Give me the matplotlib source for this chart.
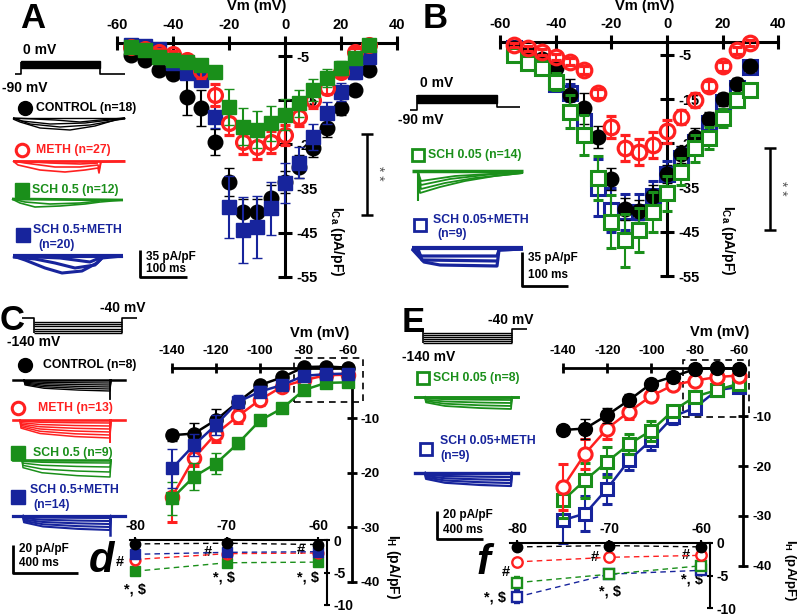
import matplotlib
matplotlib.use("Agg")
import matplotlib.pyplot as plt
from matplotlib.patches import Rectangle

plt.rcParams['font.family'] = ['Liberation Sans', 'DejaVu Sans']
plt.rcParams['font.weight'] = 'bold'
plt.rcParams['axes.unicode_minus'] = False
plt.rcParams['mathtext.fontset'] = 'custom'
plt.rcParams['mathtext.rm'] = 'Liberation Sans:bold'
plt.rcParams['mathtext.it'] = 'Liberation Sans:bold:italic'
plt.rcParams['mathtext.bf'] = 'Liberation Sans:bold'

W, H = 800, 615
BLACK = '#000000'
RED = '#ff2020'
GREEN = '#1a8f1a'
BLUE = '#17249c'

# ==========================================================
# Data: Ca current-voltage curves (panels A, B)
# ==========================================================

v_ca = [-55, -50, -45, -40, -35, -30, -25, -20, -15, -10, -5, 0, 5, 10, 15, 20, 25, 30]

a_ctrl = [-4.8, -5.9, -8.2, -9.1, -14.3, -16.8, -24.5, -33.5, -40.3, -40.3, -37.1, -33.5, -30.0, -25.8, -21.3, -16.8, -12.7, -8.2]
a_ctrl_err = [0.5, 0.6, 0.8, 0.8, 4.0, 4.0, 3.0, 3.2, 3.0, 3.0, 3.0, 2.5, 2.5, 2.0, 2.0, 1.5, 1.2, 0.8]
a_meth = [-3.0, -3.5, -4.0, -4.5, -6.0, -8.5, -13.8, -20.2, -24.5, -25.6, -24.5, -22.9, -18.8, -15.0, -12.2, -8.6, -4.1, -2.5]
a_meth_err = [0.5, 0.5, 0.6, 0.7, 1.0, 1.5, 2.5, 2.6, 2.6, 2.6, 2.5, 2.3, 2.0, 1.8, 1.5, 1.2, 0.8, 0.5]
a_sch = [-3.0, -3.6, -5.2, -5.9, -6.4, -7.0, -8.6, -16.5, -21.0, -21.7, -20.2, -18.3, -15.7, -12.7, -10.0, -7.7, -5.5, -2.5]
a_sch_err = [0.5, 0.5, 0.6, 0.7, 0.8, 0.8, 1.0, 4.0, 4.2, 4.2, 4.0, 3.5, 3.0, 2.5, 2.0, 1.5, 1.0, 0.6]
a_schm = [-2.5, -2.8, -3.5, -6.5, -8.8, -10.4, -18.8, -39.2, -44.4, -43.7, -39.4, -33.7, -29.2, -23.3, -17.9, -13.1, -8.6, -5.2]
a_schm_err = [0.5, 0.5, 0.6, 1.0, 1.2, 1.5, 2.5, 7.0, 7.5, 7.0, 6.0, 4.5, 3.5, 3.0, 2.5, 2.0, 1.5, 1.0]

b_ctrl = [-3.5, -4.5, -6.0, -8.0, -14.0, -17.0, -23.6, -33.0, -39.8, -40.2, -37.0, -32.0, -27.5, -23.5, -19.5, -15.0, -11.5, -7.6]
b_ctrl_err = [0.5, 0.6, 0.8, 1.0, 3.5, 3.5, 2.5, 2.5, 2.5, 2.5, 2.5, 2.0, 2.0, 2.0, 1.5, 1.5, 1.2, 1.0]
b_meth = [-2.7, -3.5, -4.3, -5.4, -6.5, -8.4, -13.7, -21.2, -26.0, -26.9, -25.4, -22.3, -19.0, -15.2, -12.0, -7.6, -3.9, -2.3]
b_meth_err = [0.5, 0.5, 0.6, 0.7, 0.8, 0.8, 1.0, 2.5, 3.0, 3.0, 3.0, 2.5, 1.5, 1.5, 1.2, 1.0, 0.8, 0.6]
b_sch = [-5.1, -6.9, -8.0, -11.0, -17.8, -23.1, -32.9, -42.7, -46.9, -44.6, -40.5, -36.3, -31.4, -26.1, -23.8, -19.3, -15.2, -12.9]
b_sch_err = [0.8, 1.0, 1.2, 2.0, 3.8, 4.5, 5.0, 6.0, 6.0, 5.0, 4.5, 4.0, 3.0, 3.0, 2.5, 2.0, 1.5, 1.2]
b_schm = [-3.5, -5.0, -7.5, -11.5, -13.5, -20.0, -35.0, -40.0, -40.5, -40.5, -37.0, -32.0, -28.3, -24.6, -20.4, -15.6, -12.5, -7.7]
b_schm_err = [0.5, 0.8, 1.0, 1.5, 2.0, 3.0, 6.5, 5.0, 4.0, 4.0, 3.5, 3.0, 2.5, 2.0, 2.0, 1.5, 1.5, 1.2]

# ==========================================================
# Data: Ih current-voltage curves (panels C, E)
# ==========================================================

v_h = [-140, -130, -120, -110, -100, -90, -80, -70, -60]

c_ctrl = [-13.1, -12.8, -10.3, -7.0, -3.9, -2.5, -0.6, -0.5, -0.7]
c_ctrl_err = [1.0, 2.0, 2.0, 1.0, 0.8, 0.5, 0.3, 0.3, 0.3]
c_meth = [-24.4, -17.3, -12.8, -9.6, -6.6, -4.2, -3.0, -2.1, -2.0]
c_meth_err = [4.6, 1.5, 1.5, 1.2, 1.0, 0.8, 0.4, 0.3, 0.3]
c_sch = [-24.7, -20.7, -18.3, -14.6, -10.4, -8.2, -4.8, -3.5, -3.4]
c_sch_err = [3.0, 2.5, 2.0, 1.0, 0.8, 0.6, 0.5, 0.4, 0.4]
c_schm = [-19.2, -14.9, -11.2, -7.0, -5.1, -3.9, -2.2, -1.9, -1.8]
c_schm_err = [3.5, 2.0, 1.8, 1.2, 1.0, 0.8, 0.4, 0.3, 0.3]

e_ctrl = [-12.8, -12.5, -9.8, -6.8, -3.5, -2.1, -0.6, -0.4, -0.6]
e_ctrl_err = [0.8, 2.0, 1.5, 1.2, 0.8, 0.5, 0.3, 0.3, 0.3]
e_meth = [-24.1, -17.5, -12.5, -9.1, -6.0, -3.8, -2.9, -2.2, -1.9]
e_meth_err = [4.6, 3.0, 2.0, 1.5, 1.0, 0.8, 0.5, 0.4, 0.4]
e_sch = [-26.8, -22.8, -19.1, -15.6, -12.9, -8.9, -6.1, -4.8, -3.5]
e_sch_err = [3.5, 3.5, 3.0, 2.0, 2.0, 1.0, 0.8, 0.5, 0.5]
e_schm = [-30.8, -29.5, -24.5, -18.8, -14.8, -10.1, -8.3, -4.8, -4.2]
e_schm_err = [4.5, 3.5, 3.0, 2.0, 2.0, 1.5, 1.0, 0.6, 0.5]

# insets d and f show the -80..-60 mV part of C and E
n_zoom = 3

# ==========================================================
# Figure and overlay (pixel coordinates) for decorations
# ==========================================================

fig = plt.figure(figsize=(W / 100, H / 100), dpi=100)
ov = fig.add_axes([0, 0, 1, 1])
ov.set_xlim(0, W)
ov.set_ylim(H, 0)
ov.axis('off')


def txt(x, y, s, size=8.8, color=BLACK, ha='left', **kw):
    ov.text(x, y, s, fontsize=size, color=color, ha=ha, va='center',
            fontweight='bold', **kw)


def poly(points, color=BLACK, lw=1.2):
    xs = [p[0] for p in points]
    ys = [p[1] for p in points]
    ov.plot(xs, ys, color=color, lw=lw, solid_joinstyle='round',
            solid_capstyle='butt')


def ih_traces(x_on, x_off, x_end, top, depths, color, x_start, lw=1.0, spike=0):
    ov.plot([x_start, x_end], [top, top], color=color, lw=lw + 0.8)
    for d in depths:
        ov.plot([x_on, x_on + 1, x_on + 20, x_on + 55, x_off, x_off + 1],
                [top, top + 0.45 * d, top + 0.75 * d, top + 0.92 * d, top + d, top],
                color=color, lw=lw)
    if spike:
        ov.plot([x_off, x_off], [top, top + spike], color=color, lw=lw + 0.3)


def scale_bar(x, y_top, y_bot, x_right, label1, label2, ty1, ty2):
    poly([(x, y_top), (x, y_bot), (x_right, y_bot)], lw=2.0)
    txt(x + 6, ty1, label1, size=8.5)
    txt(x + 6, ty2, label2, size=8.5)


def bracket(x, y0, y1):
    poly([(x, y0), (x, y1)], lw=1.8)
    poly([(x - 6, y0), (x + 6, y0)], lw=1.8)
    poly([(x - 6, y1), (x + 6, y1)], lw=1.8)
    ov.text(x + 11, (y0 + y1) / 2 - 1, '* *', rotation=270, fontsize=10,
            color='#555555', fontweight='normal', ha='center', va='center')


# ==========================================================
# Axes helpers
# ==========================================================

def make_ax(X0, sx, Y0, sy, xlim, ylim):
    # pixel x = X0 + sx * value, pixel y = Y0 - sy * value
    left = X0 + sx * xlim[0]
    right = X0 + sx * xlim[1]
    top = Y0 - sy * ylim[1]
    bottom = Y0 - sy * ylim[0]
    ax = fig.add_axes([left / W, 1 - bottom / H, (right - left) / W, (bottom - top) / H])
    ax.set_xlim(xlim)
    ax.set_ylim(ylim)
    ax.patch.set_alpha(0)
    return ax


def style_ax(ax, x_at, xb, y_at, yb, xticks, yticks, lw, tlen, fs, xpad, ypad):
    ax.spines['bottom'].set_visible(False)
    ax.spines['left'].set_visible(False)
    ax.spines['top'].set_position(('data', x_at))
    ax.spines['top'].set_bounds(*xb)
    ax.spines['right'].set_position(('data', y_at))
    ax.spines['right'].set_bounds(*yb)
    for s in ('top', 'right'):
        ax.spines[s].set_linewidth(lw)
    ax.xaxis.tick_top()
    ax.yaxis.tick_right()
    ax.set_xticks(xticks)
    ax.set_xticklabels([str(t) for t in xticks])
    ax.set_yticks(yticks)
    ax.set_yticklabels([str(t) for t in yticks])
    ax.tick_params(axis='x', direction='inout', length=tlen, width=lw,
                   labelsize=fs, pad=xpad)
    ax.tick_params(axis='y', direction='inout', length=tlen, width=lw,
                   labelsize=fs, pad=ypad)


def series(ax, x, y, err, color, marker, face, ms, mew, z, ls='none', lw=0,
           cap=3.6, elw=1.5):
    ax.errorbar(x, y, yerr=err, marker=marker, linestyle=ls, linewidth=lw,
                color=color, markerfacecolor=face, markeredgecolor=color,
                markersize=ms, markeredgewidth=mew, ecolor=color,
                elinewidth=elw, capsize=cap, capthick=elw, zorder=z,
                clip_on=False)


# ==========================================================
# Panel A
# ==========================================================

txt(33, 19, 'A', size=25, ha='center')
txt(23, 50, '0 mV', size=10)
txt(2, 88, '-90 mV', size=10)
poly([(15, 74), (21, 74), (21, 62)])
ov.add_patch(Rectangle((21, 61), 79, 7, color=BLACK))
poly([(100, 67), (100, 74), (125, 74)])

ov.plot([25], [108], 'o', color=BLACK, ms=10)
txt(36, 108, 'CONTROL (n=18)')
for pts in [[(13, 118), (125, 118)],
            [(13, 118), (22, 121), (50, 124), (85, 123), (110, 120), (125, 118)],
            [(13, 118), (30, 124), (60, 127), (90, 125), (112, 121), (125, 118)],
            [(13, 119), (20, 122), (40, 128), (70, 130), (95, 126), (115, 120), (125, 119)],
            [(13, 118), (55, 120), (80, 122), (100, 120), (125, 118)]]:
    poly(pts, BLACK, 1.0)

ov.plot([22], [150], 'o', color=RED, mfc='none', mew=2.2, ms=9)
txt(36, 150, 'METH (n=27)', color=RED)
poly([(13, 161), (125, 161)], RED, 2.0)
for pts in [[(13, 161), (18, 165), (40, 170), (65, 172), (85, 170), (98, 168), (99, 173), (101, 162), (125, 161)],
            [(13, 161), (25, 163), (55, 167), (80, 167), (98, 165), (99, 170), (101, 161)],
            [(13, 161), (50, 163), (80, 164), (98, 163)]]:
    poly(pts, RED, 1.2)

ov.plot([22], [190], 's', color=GREEN, ms=9.5)
txt(32, 190, 'SCH 0.5 (n=12)', color=GREEN)
poly([(12, 199), (123, 200)], GREEN, 2.0)
for pts in [[(12, 199), (20, 203), (35, 207), (60, 206), (85, 204), (100, 202), (123, 200)],
            [(12, 199), (25, 202), (50, 204), (80, 203), (100, 201)]]:
    poly(pts, GREEN, 1.2)

ov.plot([23], [235], 's', color=BLUE, ms=9.5)
txt(33, 230, 'SCH 0.5+METH', color=BLUE)
txt(38, 245, '(n=20)', color=BLUE)
poly([(13, 256), (123, 256)], BLUE, 3.0)
for pts in [[(13, 256), (25, 260), (45, 268), (62, 273), (82, 271), (97, 263), (102, 258), (123, 256)],
            [(13, 257), (35, 259), (55, 263), (75, 268), (95, 265), (102, 258)],
            [(13, 256), (60, 258), (90, 262), (102, 257)]]:
    poly(pts, BLUE, 2.2)

scale_bar(140, 250, 277, 187, '35 pA/pF', '100 ms', 257, 269)
bracket(367, 134, 215)
txt(257, 6, 'Vm (mV)', size=10.5, ha='center')
ov.text(337, 241, r'I$_{\rm Ca}$ (pA/pF)', rotation=270, fontsize=10,
        fontweight='bold', ha='center', va='center')

axA = make_ax(285, 2.8, 33.9, 4.42, (-66, 46), (-58, 3))
style_ax(axA, -2.06, (-60, 40), 0, (-55, -2.06), [-60, -40, -20, 0, 20, 40],
         [-5, -15, -25, -35, -45, -55], 2.2, 10, 10.5, 3, 3.5)
series(axA, v_ca, a_ctrl, a_ctrl_err, BLACK, 'o', BLACK, 10.5, 1, 3)
series(axA, v_ca, a_schm, a_schm_err, BLUE, 's', BLUE, 10, 1, 4)
series(axA, v_ca, a_meth, a_meth_err, RED, 'o', 'none', 10, 2.3, 5)
series(axA, v_ca, a_sch, a_sch_err, GREEN, 's', GREEN, 10, 1, 6)

# ==========================================================
# Panel B
# ==========================================================

txt(435, 19, 'B', size=25, ha='center')
txt(420, 83, '0 mV', size=10)
txt(398, 120, '-90 mV', size=10)
poly([(410, 110), (417, 110), (417, 95)])
ov.add_patch(Rectangle((417, 95), 80, 8, color=BLACK))
poly([(497, 103), (497, 107), (520, 107)])

ov.plot([418], [155], 's', color=GREEN, mfc='white', mew=2, ms=8.5)
txt(428, 155, 'SCH 0.05 (n=14)', color=GREEN)
poly([(412, 171), (523, 171)], GREEN, 2.5)
poly([(418, 171), (418, 201)], GREEN, 1.5)
for pts in [[(418, 172), (420, 193), (440, 187), (465, 181), (495, 176), (523, 173)],
            [(418, 172), (421, 189), (445, 183), (475, 178), (523, 173)],
            [(418, 172), (421, 185), (450, 179), (485, 175), (523, 172)],
            [(418, 172), (421, 181), (455, 176), (523, 172)]]:
    poly(pts, GREEN, 1.3)

ov.plot([420], [225], 's', color=BLUE, mfc='white', mew=2, ms=8.5)
txt(433, 220, 'SCH 0.05+METH', color=BLUE)
txt(437, 234, '(n=9)', color=BLUE)
poly([(412, 248), (523, 248)], BLUE, 3.0)
for pts in [[(412, 248), (421, 256), (497, 256), (499, 250), (523, 249)],
            [(412, 249), (424, 262), (440, 265), (497, 266), (499, 250), (523, 249)],
            [(418, 249), (422, 260), (497, 261)]]:
    poly(pts, BLUE, 2.3)

scale_bar(522, 252, 286, 568, '35 pA/pF', '100 ms', 258, 275)
bracket(770, 148, 230)
txt(645, 6, 'Vm (mV)', size=10.5, ha='center')
ov.text(728, 240, r'I$_{\rm Ca}$ (pA/pF)', rotation=270, fontsize=10,
        fontweight='bold', ha='center', va='center')

axB = make_ax(667, 2.78, 32.9, 4.42, (-66, 46), (-58, 3))
style_ax(axB, -2.1, (-60, 40), 0, (-55, -2.1), [-60, -40, -20, 0, 20, 40],
         [-5, -15, -25, -35, -45, -55], 2.2, 10, 10.5, 3, 3.5)
series(axB, v_ca, b_schm, b_schm_err, BLUE, 's', 'white', 9.5, 2.2, 3)
series(axB, v_ca, b_ctrl, b_ctrl_err, BLACK, 'o', BLACK, 10.5, 1, 4)
series(axB, v_ca, b_sch, b_sch_err, GREEN, 's', 'white', 9.5, 2.2, 5)
series(axB, v_ca, b_meth, b_meth_err, RED, 'o', 'none', 10.5, 2.3, 6)

# ==========================================================
# Panel C
# ==========================================================

txt(12, 320, 'C', size=25, ha='center')
txt(100, 308, '-40 mV', size=10)
txt(7, 342, '-140 mV', size=10)
poly([(22, 318), (34, 318), (34, 333)])
for yl in [322, 324.2, 326.4, 328.6, 330.8, 333]:
    poly([(34, yl), (122, yl)], lw=1.0)
poly([(122, 333), (122, 318), (137, 318)])

ov.plot([25], [365], 'o', color=BLACK, ms=10)
txt(43, 365, 'CONTROL (n=8)')
ih_traces(24, 110, 125, 380, [3, 5, 7, 9, 11], BLACK, 13, spike=19)

ov.plot([18], [408], 'o', color=RED, mfc='none', mew=2.2, ms=9)
txt(38, 408, 'METH (n=13)', color=RED)
ih_traces(20, 110, 125, 420, [3, 6, 9, 12, 15, 18], RED, 13, lw=1.1, spike=22)

ov.plot([18], [453], 's', color=GREEN, ms=9.5)
txt(33, 453, 'SCH 0.5 (n=9)', color=GREEN)
ih_traces(22, 110, 110, 460, [3, 7, 12, 17], GREEN, 13, lw=1.1)

ov.plot([18], [497], 's', color=BLUE, ms=9.5)
txt(30, 490, 'SCH 0.5+METH', color=BLUE)
txt(33, 505, '(n=14)', color=BLUE)
ih_traces(23, 110, 125, 516, [2, 5, 8, 11, 14], BLUE, 13, lw=1.5, spike=19)

scale_bar(13, 545, 573, 78, '20 pA/pF', '400 ms', 549, 563)
txt(320, 333, 'Vm (mV)', size=10.5, ha='center')
ov.text(393, 567, r'I$_{\rm H}$ (pA/pF)', rotation=270, fontsize=10,
        fontweight='bold', ha='center', va='center')

axC = make_ax(480, 2.2, 363.8, 5.45, (-146, -50), (-42, 2))
style_ax(axC, -0.8, (-140, -58.3), -58.3, (-40, -0.8),
         [-140, -120, -100, -80, -60], [-10, -20, -30, -40], 2.0, 7, 9.5, 4.5, 3)
axC.add_patch(Rectangle((-84.5, -7.0), 31.3, 8.1, fill=False, ls=(0, (4, 3)),
                        lw=1.2, ec=BLACK, zorder=2, clip_on=False))
series(axC, v_h, c_meth, c_meth_err, RED, 'o', 'white', 9, 2.2, 3, ls='-', lw=1.8)
series(axC, v_h, c_sch, c_sch_err, GREEN, 's', GREEN, 9, 1, 4, ls='-', lw=1.8)
series(axC, v_h, c_ctrl, c_ctrl_err, BLACK, 'o', BLACK, 9.5, 1, 5, ls='-', lw=1.8)
series(axC, v_h, c_schm, c_schm_err, BLUE, 's', BLUE, 9, 1, 6, ls='-', lw=1.8)

# inset d
axD = make_ax(868.6, 9.17, 540, 6.5, (-82, -57), (-11, 1.5))
style_ax(axD, 0, (-80.5, -59.1), -59.1, (-10, 0), [-80, -70, -60], [0, -5, -10],
         1.5, 4, 10, 3, 3)
vd = v_h[-n_zoom:]
dash = (0, (4, 3))
series(axD, vd, c_sch[-n_zoom:], c_sch_err[-n_zoom:], GREEN, 's', GREEN, 7, 1, 3, ls=dash, lw=1.0, cap=2.5, elw=1.2)
series(axD, vd, c_meth[-n_zoom:], c_meth_err[-n_zoom:], RED, 'o', 'white', 7, 1.8, 4, ls=dash, lw=1.0, cap=2.5, elw=1.2)
series(axD, vd, c_schm[-n_zoom:], c_schm_err[-n_zoom:], BLUE, 's', BLUE, 7, 1, 5, ls=dash, lw=1.0, cap=2.5, elw=1.2)
series(axD, vd, c_ctrl[-n_zoom:], c_ctrl_err[-n_zoom:], BLACK, 'o', BLACK, 7.5, 1, 6, ls=dash, lw=1.0, cap=2.5, elw=1.2)

txt(101, 561, 'd', size=30, ha='center', style='italic')
for (x, y) in [(120, 562), (208, 552), (301, 550)]:
    txt(x, y, '#', size=10.5, ha='center')
for (x, y) in [(135, 590), (224, 578), (308, 577)]:
    txt(x, y, '*, $', size=10.5, ha='center')

# ==========================================================
# Panel E
# ==========================================================

txt(413, 322, 'E', size=25, ha='center')
txt(488, 320, '-40 mV', size=10)
txt(402, 357, '-140 mV', size=10)
poly([(413, 329), (423, 329), (423, 343)])
for yl in [333, 335, 337, 339, 341, 343]:
    poly([(423, yl), (512, yl)], lw=1.0)
poly([(512, 343), (512, 329), (527, 329)])

ov.plot([423], [378], 's', color=GREEN, mfc='white', mew=2, ms=8.5)
txt(433, 378, 'SCH 0.05 (n=8)', color=GREEN)
ih_traces(425, 511, 518, 397, [3, 6, 9, 12], GREEN, 415, lw=1.3)

ov.plot([426], [449], 's', color=BLUE, mfc='white', mew=2, ms=8.5)
txt(440, 441, 'SCH 0.05+METH', color=BLUE)
txt(440, 456, '(n=9)', color=BLUE)
ih_traces(425, 511, 518, 473, [4, 7, 10, 13], BLUE, 415, lw=1.6)

scale_bar(437, 511, 539, 483, '20 pA/pF', '400 ms', 515, 530)
txt(720, 332, 'Vm (mV)', size=10.5, ha='center')
ov.text(790, 570, r'I$_{\rm H}$ (pA/pF)', rotation=270, fontsize=9.5,
        fontweight='bold', ha='center', va='center')

axE = make_ax(871.3, 2.2, 366, 5.0, (-146, -50), (-42, 2))
style_ax(axE, -0.4, (-140, -58.2), -58.2, (-40, -0.4),
         [-140, -120, -100, -80, -60], [-10, -20, -30, -40], 2.0, 7, 9.5, 4.5, 3)
axE.add_patch(Rectangle((-85.6, -10.2), 30.0, 11.4, fill=False, ls=(0, (4, 3)),
                        lw=1.2, ec=BLACK, zorder=2, clip_on=False))
series(axE, v_h, e_schm, e_schm_err, BLUE, 's', 'white', 9, 2.2, 3, ls='-', lw=1.8)
series(axE, v_h, e_sch, e_sch_err, GREEN, 's', 'white', 9, 2.2, 4, ls='-', lw=1.8)
series(axE, v_h, e_meth, e_meth_err, RED, 'o', 'white', 9.5, 2.2, 5, ls='-', lw=1.8)
series(axE, v_h, e_ctrl, e_ctrl_err, BLACK, 'o', BLACK, 10, 1, 6, ls='-', lw=1.8)

# inset f
axF = make_ax(1253.3, 9.2, 543, 6.5, (-82, -57), (-11, 1.5))
style_ax(axF, 0, (-80.8, -59.05), -59.05, (-10, 0), [-80, -70, -60], [0, -5, -10],
         1.5, 4, 10, 3, 3)
series(axF, vd, e_schm[-n_zoom:], e_schm_err[-n_zoom:], BLUE, 's', 'white', 7, 1.7, 3, ls=dash, lw=1.0, cap=2.5, elw=1.2)
series(axF, vd, e_sch[-n_zoom:], e_sch_err[-n_zoom:], GREEN, 's', 'white', 7, 1.7, 4, ls=dash, lw=1.0, cap=2.5, elw=1.2)
series(axF, vd, e_meth[-n_zoom:], e_meth_err[-n_zoom:], RED, 'o', 'white', 7.5, 1.7, 5, ls=dash, lw=1.0, cap=2.5, elw=1.2)
series(axF, vd, e_ctrl[-n_zoom:], e_ctrl_err[-n_zoom:], BLACK, 'o', BLACK, 7.5, 1, 6, ls=dash, lw=1.0, cap=2.5, elw=1.2)

txt(483, 563, 'f', size=30, ha='center', style='italic')
for (x, y) in [(506, 572), (595, 557), (686, 555)]:
    txt(x, y, '#', size=10.5, ha='center')
for (x, y) in [(495, 597), (610, 592), (692, 580)]:
    txt(x, y, '*, $', size=10.5, ha='center')

fig.savefig('out.png', dpi=100)
plt.close(fig)
